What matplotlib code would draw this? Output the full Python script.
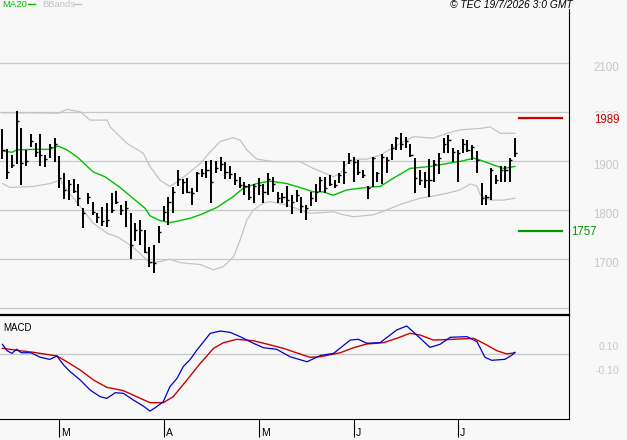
import matplotlib
matplotlib.use('Agg')
import matplotlib.pyplot as plt
from matplotlib.lines import Line2D

plt.rcParams['font.family'] = ['Liberation Sans', 'DejaVu Sans']

# daily bars (trading day index 0..108)
highs = [1965, 1924, 1912, 2003, 1967, 1923, 1955, 1938, 1955, 1912, 1934, 1947, 1910, 1876, 1861,
         1863, 1853, 1804, 1835, 1816, 1793, 1805, 1815, 1835, 1839, 1810, 1818, 1793, 1773, 1779,
         1759, 1723, 1728, 1768, 1808, 1827, 1846, 1882, 1863, 1865, 1844, 1878, 1883, 1901, 1902,
         1900, 1909, 1899, 1889, 1876, 1868, 1858, 1854, 1854, 1865, 1854, 1875, 1868, 1837, 1834,
         1848, 1831, 1841, 1826, 1810, 1837, 1853, 1868, 1868, 1872, 1861, 1875, 1900, 1917, 1909,
         1902, 1882, 1848, 1909, 1878, 1915, 1909, 1936, 1950, 1957, 1950, 1936, 1906, 1882, 1878,
         1904, 1902, 1916, 1947, 1953, 1926, 1923, 1945, 1943, 1933, 1921, 1856, 1831, 1885, 1872,
         1889, 1889, 1906, 1947]
lows = [1904, 1864, 1885, 1895, 1852, 1890, 1929, 1909, 1890, 1888, 1906, 1899, 1844, 1823, 1820,
        1834, 1807, 1762, 1812, 1790, 1774, 1766, 1764, 1793, 1812, 1790, 1764, 1699, 1736, 1728,
        1712, 1682, 1671, 1732, 1778, 1770, 1793, 1848, 1833, 1834, 1810, 1837, 1868, 1865, 1814,
        1875, 1880, 1863, 1863, 1852, 1845, 1831, 1820, 1815, 1831, 1815, 1831, 1837, 1815, 1815,
        1806, 1792, 1817, 1794, 1779, 1807, 1817, 1837, 1834, 1848, 1844, 1856, 1854, 1895, 1858,
        1872, 1865, 1822, 1846, 1858, 1854, 1875, 1902, 1923, 1923, 1927, 1909, 1835, 1851, 1844,
        1826, 1858, 1874, 1916, 1916, 1898, 1858, 1916, 1919, 1902, 1876, 1810, 1810, 1820, 1854,
        1858, 1858, 1858, 1909]
closes = [1923, 1878, 1892, 1982, 1897, 1900, 1942, 1919, 1912, 1904, 1929, 1936, 1865, 1841, 1854,
          1839, 1825, 1793, 1826, 1795, 1785, 1778, 1779, 1800, 1817, 1800, 1804, 1728, 1759, 1759,
          1714, 1694, 1691, 1755, 1796, 1817, 1837, 1863, 1858, 1836, 1834, 1876, 1876, 1882, 1858,
          1885, 1895, 1878, 1874, 1861, 1851, 1848, 1827, 1848, 1851, 1837, 1863, 1854, 1824, 1827,
          1820, 1817, 1831, 1807, 1803, 1824, 1837, 1861, 1844, 1854, 1851, 1872, 1878, 1902, 1899,
          1878, 1872, 1844, 1906, 1875, 1909, 1902, 1926, 1947, 1936, 1942, 1912, 1865, 1861, 1861,
          1861, 1895, 1906, 1936, 1943, 1919, 1916, 1936, 1923, 1929, 1902, 1824, 1827, 1882, 1861,
          1882, 1882, 1902, 1916]

# moving average 20 and bollinger bands (position in bar units, price)
ma_x = [0, 2, 3.1, 6.5, 10, 11.7, 13.6, 15.7, 17.9, 19.1, 21.6, 24.8, 27.5, 30.1, 31.1, 33.2, 35.3,
        37.4, 39.6, 41.7, 45.2, 48.6, 50.7, 53.6, 56.4, 59.9, 62.7, 65.5, 67.6, 69.7, 72.6, 76.8,
        79.6, 82.4, 85.9, 90.1, 93.7, 96.8, 99.3, 100.7, 103.5, 105.6, 108]
ma_y = [1921, 1918, 1923, 1924, 1924, 1931, 1923, 1909, 1889, 1878, 1868, 1846, 1824, 1803, 1788,
        1778, 1774, 1778, 1783, 1790, 1805, 1827, 1844, 1854, 1859, 1854, 1846, 1837, 1837, 1830,
        1841, 1846, 1848, 1865, 1885, 1889, 1895, 1900, 1906, 1902, 1892, 1885, 1889]
bb_up_x = [0, 6.5, 11.7, 13.6, 16.4, 18.5, 22.1, 22.7, 26.3, 29.7, 31.1, 33.2, 35.3, 37.4, 41.7,
           43.8, 45.9, 48.6, 50.1, 51.5, 53.6, 57.1, 62.7, 65.5, 69.8, 71.2, 72.6, 74.7, 76.8, 79.6,
           81.7, 83.8, 86.6, 90.8, 93.7, 96.5, 100.7, 102.8, 104.9, 108]
bb_up_y = [1999, 1999, 1998, 2006, 2001, 1984, 1984, 1970, 1936, 1916, 1889, 1861, 1848, 1861, 1895,
           1919, 1940, 1948, 1943, 1923, 1904, 1899, 1899, 1885, 1868, 1875, 1895, 1904, 1904, 1912,
           1924, 1936, 1950, 1947, 1957, 1964, 1967, 1970, 1957, 1957]
bb_lo_x = [0, 1.6, 6.5, 10, 12.2, 13.6, 16.4, 19.1, 22.1, 24.2, 26.9, 29, 31.1, 33.2, 35.3, 37.4,
           41.7, 44.5, 46.6, 48.7, 50.1, 51.5, 52.9, 55, 56.4, 59.9, 64.8, 69.8, 71.9, 74, 78.2, 81,
           83.8, 88, 90.1, 93.7, 96.5, 98.6, 100, 100.7, 102.8, 105.6, 108]
bb_lo_y = [1854, 1846, 1848, 1854, 1861, 1841, 1807, 1773, 1752, 1745, 1728, 1711, 1691, 1694, 1699,
           1692, 1688, 1677, 1684, 1704, 1738, 1779, 1800, 1814, 1817, 1810, 1793, 1796, 1790, 1786,
           1790, 1800, 1811, 1824, 1827, 1834, 1841, 1853, 1849, 1831, 1820, 1820, 1824]

# MACD and signal
macd_x = [0, 1, 2, 3, 4, 6, 8, 10, 11.5, 12.9, 14.3, 16.4, 18.5, 20.6, 22, 23.8, 25.5, 27.6, 29.7,
          31.1, 32.5, 33.9, 35.3, 36.8, 38.1, 39.6, 41, 42.4, 43.8, 45.9, 48, 50.1, 52.9, 55, 57.8,
          60.6, 64.2, 67, 69.8, 73.3, 75, 76.8, 79.6, 83.1, 85.2, 87.3, 90.1, 92.2, 94.4, 97.9, 100,
          101.7, 103.1, 105.9, 107.4, 108]
macd_y = [0.083, 0.030, 0.008, 0.042, 0.013, 0.013, -0.025, -0.042, -0.014, -0.089, -0.145, -0.214,
          -0.298, -0.353, -0.367, -0.320, -0.325, -0.381, -0.431, -0.473, -0.437, -0.395, -0.270,
          -0.200, -0.103, -0.042, 0.036, 0.105, 0.175, 0.194, 0.183, 0.147, 0.092, 0.055, 0.042,
          -0.020, -0.062, -0.010, 0.008, 0.119, 0.125, 0.092, 0.097, 0.203, 0.236, 0.161, 0.058,
          0.083, 0.142, 0.147, 0.105, -0.025, -0.050, -0.042, -0.006, 0.017]
sig_x = [0, 3.7, 6.5, 11.5, 13.6, 16.4, 19.2, 22, 25.5, 28.3, 31.1, 33.9, 36, 38.9, 41.7, 44.5, 46.6,
         49.4, 52.9, 55.7, 59.2, 62.7, 64.8, 67, 71.2, 74, 76.8, 80.3, 83.1, 85.9, 88, 90.8, 95,
         99.3, 101.4, 104.2, 106.3, 108]
sig_y = [0.050, 0.030, 0.017, -0.014, -0.062, -0.131, -0.214, -0.275, -0.303, -0.353, -0.403,
         -0.403, -0.353, -0.214, -0.075, 0.050, 0.097, 0.125, 0.113, 0.086, 0.050, 0.003, -0.025,
         -0.020, 0.013, 0.055, 0.086, 0.097, 0.133, 0.175, 0.161, 0.119, 0.125, 0.133, 0.092, 0.030,
         0.003, 0.013]

price_levels = [1700, 1800, 1900, 2000, 2100]
resistance = 1989
support = 1757
month_pos = [12, 34, 54, 74, 96]
month_lab = ['M', 'A', 'M', 'J', 'J']

bg = '#f8f8f8'
grid_c = '#c8c8c8'
fig = plt.figure(figsize=(6.27, 4.4), dpi=100, facecolor=bg)
ax = fig.add_axes([0, 1 - 314 / 440, 569 / 627, 305 / 440])
ax2 = fig.add_axes([0, 21 / 440, 569 / 627, 104 / 440])

# ---- price panel
ax.set_facecolor(bg)
ax.set_xlim(-0.5, 119.4)
ax.set_ylim(1586.7, 2211.6)
for lv in [1600] + price_levels:
    ax.axhline(lv, color=grid_c, lw=0.9, zorder=0)
ax.plot(bb_up_x, bb_up_y, color='#c4c4c4', lw=0.9, zorder=1)
ax.plot(bb_lo_x, bb_lo_y, color='#c4c4c4', lw=0.9, zorder=1)
ax.plot(ma_x, ma_y, color='#00c000', lw=1.0, zorder=2)
xs = list(range(len(highs)))
ax.vlines(xs, lows, highs, color='black', lw=1.4, zorder=3)
ax.hlines(closes, xs, [x + 0.45 for x in xs], color='black', lw=1.0, zorder=3)

for s in ['top', 'left', 'bottom']:
    ax.spines[s].set_visible(False)
ax.spines['right'].set_color('black')
ax.spines['right'].set_linewidth(0.8)
ax.set_xticks([])
ax.set_yticks([])

for lv in price_levels:
    ax.annotate(str(lv), xy=(1, lv), xycoords=('axes fraction', 'data'), xytext=(24, -5),
                textcoords='offset pixels', ha='left', va='center', color=grid_c, fontsize=8.3,
                annotation_clip=False)

ax.axhline(resistance, xmin=519 / 569, xmax=562 / 569, color='#cc0000', lw=1.6)
ax.axhline(support, xmin=519 / 569, xmax=562 / 569, color='#009900', lw=1.6)
ax.annotate(str(resistance), xy=(1, resistance), xycoords=('axes fraction', 'data'), xytext=(25, -2),
            textcoords='offset pixels', ha='left', va='center', color='#cc0000', fontsize=8.3,
            annotation_clip=False, zorder=5,
            bbox=dict(boxstyle='square,pad=0.05', fc=bg, ec='none'))
ax.annotate(str(support), xy=(1, support), xycoords=('axes fraction', 'data'), xytext=(2, -1),
            textcoords='offset pixels', ha='left', va='center', color='#009900', fontsize=8.3,
            annotation_clip=False)

# ---- MACD panel
ax2.set_facecolor(bg)
ax2.set_xlim(-0.5, 119.4)
ax2.set_ylim(-0.539, 0.3275)
ax2.axhline(0, color=grid_c, lw=0.9, zorder=0)
ax2.plot(sig_x, sig_y, color='#cc0000', lw=1.0)
ax2.plot(macd_x, macd_y, color='#0000cc', lw=0.9)
ax2.spines['left'].set_visible(False)
ax2.spines['top'].set_linewidth(1.6)
ax2.spines['right'].set_linewidth(0.8)
ax2.spines['bottom'].set_linewidth(0.8)
ax2.set_yticks([])
ax2.set_xticks(month_pos)
ax2.tick_params(axis='x', length=13, width=0.8, labelbottom=False)
for p, lab in zip(month_pos, month_lab):
    ax2.annotate(lab, xy=(p, 0), xycoords=('data', 'axes fraction'), xytext=(2, -14),
                 textcoords='offset pixels', ha='left', va='center', fontsize=7.5,
                 annotation_clip=False)
for v, lab in [(0.1, '0.10'), (-0.1, '-0.10')]:
    ax2.annotate(lab, xy=(1, v), xycoords=('axes fraction', 'data'), xytext=(50, -5),
                 textcoords='offset pixels', ha='right', va='center', color=grid_c, fontsize=7.5,
                 annotation_clip=False)
ax2.annotate('MACD', xy=(0, 1), xycoords='axes fraction', xytext=(3, -12.5),
             textcoords='offset pixels', ha='left', va='center', fontsize=7)

# ---- header
ty = 1 - 4.7 / 440
fig.text(2 / 627, ty, 'MA20', color='#00c000', fontsize=6.8, va='center')
fig.add_artist(Line2D([28 / 627, 35 / 627], [1 - 4 / 440] * 2, color='#00c000', lw=1))
fig.text(42 / 627, ty, 'BBands', color='#c4c4c4', fontsize=6.8, va='center')
fig.add_artist(Line2D([74 / 627, 81 / 627], [1 - 4 / 440] * 2, color='#c4c4c4', lw=1))
fig.text(573 / 627, ty, '\u00a9 TEC 19/7/2026 3:0 GMT', fontsize=7.4, style='italic', ha='right',
         va='center')

fig.savefig('out.png', dpi=100, facecolor=bg)
